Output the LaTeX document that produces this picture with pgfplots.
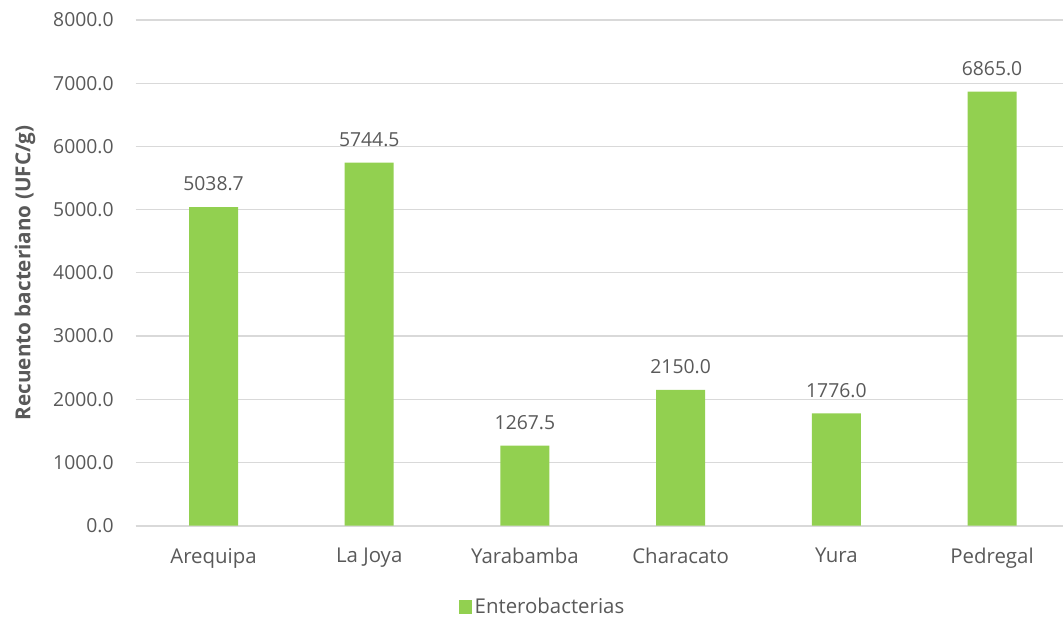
\documentclass[border=0pt]{standalone}
\usepackage{pgfplots}
\pgfplotsset{compat=1.18}
\usepackage{fontspec}
\setmainfont{Open Sans}
\definecolor{barg}{HTML}{92D050}
\definecolor{gridc}{HTML}{D9D9D9}
\definecolor{txt}{HTML}{595959}
\begin{document}
\begin{tikzpicture}[x=0.75pt,y=0.75pt]
\useasboundingbox (0,0) rectangle (1063,623);
\begin{axis}[
  at={(101.775pt,72.975pt)}, anchor=south west,
  scale only axis, width=695.5pt, height=379.3pt,
  ybar, bar width=36.75pt,
  xmin=-0.5, xmax=5.456,
  ymin=0, ymax=8000, ytick={0,1000,...,8000},
  xtick=data,
  xticklabels={Arequipa,La Joya,Yarabamba,Characato,Yura,Pedregal},
  separate axis lines,
  axis x line*=bottom, axis y line*=left,
  x axis line style={draw=gridc, line width=1.5pt, -},
  y axis line style={draw=none},
  major tick length=0pt,
  ymajorgrids, grid style={draw=gridc, line width=1pt},
  /pgf/number format/assume math mode=true,
  tick label style={font=\fontsize{14.5}{17}\selectfont, text=txt},
  yticklabel style={/pgf/number format/fixed, /pgf/number format/fixed zerofill, /pgf/number format/precision=1, /pgf/number format/1000 sep={}, xshift=-13pt},
  scaled y ticks=false,
  xticklabel style={yshift=-13.5pt, font=\fontsize{15.3}{18}\selectfont},
  ylabel={\bfseries Recuento bacteriano (UFC/g)},
  every axis y label/.style={at={(ticklabel cs:0.5,0)}, rotate=90, yshift=6.5pt, anchor=south, font=\fontsize{15.5}{18}\selectfont, text=txt},
  nodes near coords,
  every node near coord/.append style={font=\fontsize{14.5}{17}\selectfont, text=txt, /pgf/number format/fixed, /pgf/number format/fixed zerofill, /pgf/number format/precision=1, /pgf/number format/1000 sep={}, /pgf/number format/assume math mode=true, yshift=8.5pt},
  legend style={at={(0.439,-0.161)}, anchor=center, draw=none, font=\fontsize{15.3}{18}\selectfont, text=txt, legend cell align=left},
  legend image code/.code={\fill[barg] (0pt,-5pt) rectangle (10pt,5pt);},
  clip=false,
]
\addplot[fill=barg, draw=none] coordinates {(0,5038.7) (1,5744.5) (2,1267.5) (3,2150.0) (4,1776.0) (5,6865.0)};
\addlegendentry{Enterobacterias}
\end{axis}
\end{tikzpicture}
\end{document}
